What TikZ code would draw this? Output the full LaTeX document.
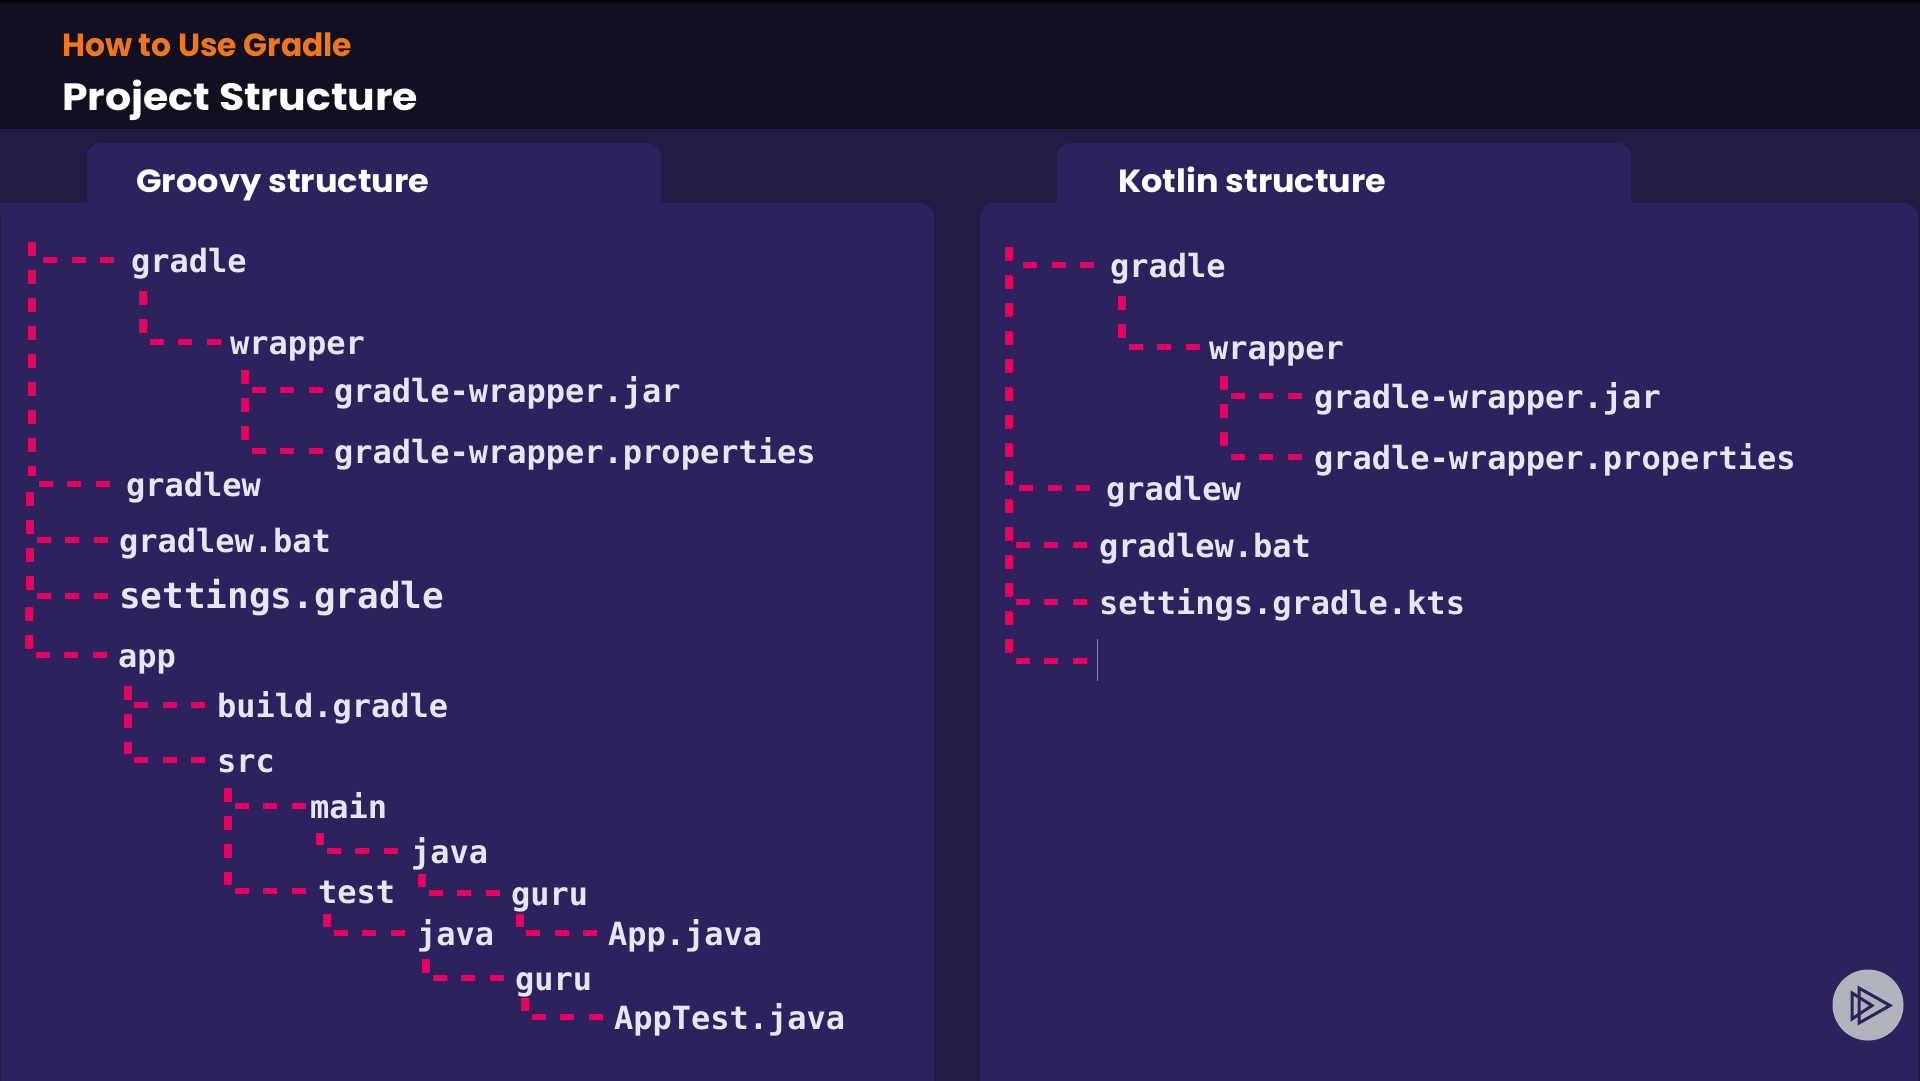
\documentclass[tikz,border=0pt]{standalone}
\usepackage{fontspec}
\setmainfont{Poppins}
\newfontfamily\codefont{DejaVu Sans Mono}
\definecolor{headerfill}{HTML}{120F20}
\definecolor{backfill}{HTML}{221C44}
\definecolor{panelfill}{HTML}{2D225E}
\definecolor{pinkline}{HTML}{E8005F}
\definecolor{codetext}{HTML}{E6E6F5}
\definecolor{orangetext}{HTML}{F0761C}
\definecolor{playfill}{HTML}{B0B3BB}
\tikzset{
  code/.style={anchor=base west,inner sep=0pt,outer sep=0pt,text height=24pt,text depth=0pt,
    text=codetext,font=\codefont\bfseries\fontsize{32}{32}\selectfont},
  bigcode/.style={code,font=\codefont\bfseries\fontsize{36}{36}\selectfont},
  vdash/.style={draw=pinkline,line width=8pt,dash pattern=on 14pt off 14pt},
  hdash/.style={draw=pinkline,line width=6.7pt,shorten <=6.5pt,
    dash pattern=on 14pt off 14.5pt on 14pt off 14.5pt on 14pt off 200pt},
  heading/.style={anchor=base west,inner sep=0pt,text=white,transform shape,font=\bfseries\fontsize{32}{32}\selectfont}
}
\begin{document}
\begin{tikzpicture}[x=1pt,y=-1pt]
      \useasboundingbox (0,0) rectangle (1920,1080);
      \fill[backfill] (-5,-5) rectangle (1925,1085);
      \begin{scope}
        \clip (-5,-5) rectangle (1925,1085);
        \fill[panelfill,rounded corners=14pt] (87,230) -- (87,143) -- (661,143) -- (661,230);
        \fill[panelfill,rounded corners=14pt] (1057,230) -- (1057,143) -- (1631,143) -- (1631,230);
        \fill[panelfill,rounded corners=14pt] (-20,203) -- (934,203) -- (934,1110) -- (1,1110) -- (1,203) -- cycle;
        \fill[panelfill,rounded corners=14pt] (980,1110) -- (980,203) -- (1918,203) -- (1918,1110) -- cycle;
      \end{scope}
      \fill[headerfill] (0,0) rectangle (1920,129);
      \fill[black] (0,0) rectangle (1920,2);

      \node[heading,xscale=0.98,text=orangetext] (course) at (62,56) {How to Use Gradle};
      \node[heading,xscale=1.08,font=\bfseries\fontsize{38}{38}\selectfont] (title) at (62,110) {Project Structure};
      \node[heading,xscale=1.05] (groovy) at (136,192) {Groovy structure};
      \node[heading,xscale=1.045] (kotlin) at (1118,192) {Kotlin structure};

      \node[code] (gradle) at (131,272) {gradle};
      \node[code] (wrapper) at (230,354) {wrapper};
      \node[code] (jar) at (334,402) {gradle-wrapper.jar};
      \node[code] (props) at (334,463) {gradle-wrapper.properties};
      \node[code] (gradlew) at (126,496) {gradlew};
      \node[code] (bat) at (119,552) {gradlew.bat};
      \node[bigcode] (settings) at (119,608) {settings.gradle};
      \node[code] (app) at (118,667) {app};
      \node[code] (build) at (217,717) {build.gradle};
      \node[code] (src) at (217,772) {src};
      \node[code] (main) at (310,818) {main};
      \node[code] (java) at (411,863) {java};
      \node[code] (guru) at (511,905) {guru};
      \node[code] (test) at (318,903) {test};
      \node[code] (javatest) at (417,945) {java};
      \node[code] (appjava) at (608,945) {App.java};
      \node[code] (gurutest) at (515,990) {guru};
      \node[code] (apptest) at (614,1029) {AppTest.java};

      \node[code] (kgradle) at (1110,277) {gradle};
      \node[code] (kwrapper) at (1209,359) {wrapper};
      \node[code] (kjar) at (1314,408) {gradle-wrapper.jar};
      \node[code] (kprops) at (1314,469) {gradle-wrapper.properties};
      \node[code] (kgradlew) at (1106,500) {gradlew};
      \node[code] (kbat) at (1099,557) {gradlew.bat};
      \node[code] (ksettings) at (1099,614) {settings.gradle.kts};

      \coordinate (roottop) at (32,242);
      \coordinate (rootend) at (32,476);
      \coordinate (rootnext) at (30,492);
      \coordinate (rootnextend) at (30,590);
      \coordinate (rootlast) at (29,607);
      \coordinate (rootlastend) at (29,649);
      \coordinate (gradletop) at (143,291);
      \coordinate (gradleend) at (143,333);
      \coordinate (wrappertop) at (245,370);
      \coordinate (wrapperend) at (245,442);
      \coordinate (apptop) at (127.5,686);
      \coordinate (append) at (127.5,754);
      \coordinate (srctop) at (228,788);
      \coordinate (srcend) at (228,885);
      \coordinate (maintop) at (320,833);
      \coordinate (mainend) at (320,845);
      \coordinate (javatop) at (422,874);
      \coordinate (javaend) at (422,887);
      \coordinate (testtop) at (327,914);
      \coordinate (testend) at (327,927);
      \coordinate (gurutop) at (519.5,914);
      \coordinate (guruend) at (519.5,927);
      \coordinate (javatesttop) at (426,959);
      \coordinate (javatestend) at (426,973);
      \coordinate (gurutesttop) at (525,998);
      \coordinate (gurutestend) at (525,1011);

      \draw[vdash] (roottop) -- (rootend);
      \draw[vdash] (rootnext) -- (rootnextend);
      \draw[vdash] (rootlast) -- (rootlastend);
      \draw[vdash] (gradletop) -- (gradleend);
      \draw[vdash] (wrappertop) -- (wrapperend);
      \draw[vdash] (apptop) -- (append);
      \draw[vdash] (srctop) -- (srcend);
      \draw[vdash] (maintop) -- (mainend);
      \draw[vdash] (javatop) -- (javaend);
      \draw[vdash] (testtop) -- (testend);
      \draw[vdash] (gurutop) -- (guruend);
      \draw[vdash] (javatesttop) -- (javatestend);
      \draw[vdash] (gurutesttop) -- (gurutestend);

      \draw[hdash,shorten <=11pt] (roottop |- gradle.west) -- (gradle.west);
      \draw[hdash] (rootend |- gradlew.west) -- (gradlew.west);
      \draw[hdash] (rootnext |- bat.west) -- (bat.west);
      \draw[hdash] (rootnext |- settings.west) -- (settings.west);
      \draw[hdash] (rootlast |- app.west) -- (app.west);
      \draw[hdash] (gradletop |- wrapper.west) -- (wrapper.west);
      \draw[hdash] (wrappertop |- jar.west) -- (jar.west);
      \draw[hdash] (wrappertop |- props.west) -- (props.west);
      \draw[hdash] (apptop |- build.west) -- (build.west);
      \draw[hdash] (apptop |- src.west) -- (src.west);
      \draw[hdash] (srctop |- main.west) -- (main.west);
      \draw[hdash] (srctop |- test.west) -- (test.west);
      \draw[hdash] (maintop |- java.west) -- (java.west);
      \draw[hdash] (javatop |- guru.west) -- (guru.west);
      \draw[hdash] (testtop |- javatest.west) -- (javatest.west);
      \draw[hdash] (gurutop |- appjava.west) -- (appjava.west);
      \draw[hdash] (javatesttop |- gurutest.west) -- (gurutest.west);
      \draw[hdash] (gurutesttop |- apptest.west) -- (apptest.west);

      \coordinate (kroottop) at (1009,247);
      \coordinate (krootend) at (1009,654);
      \coordinate (kgradletop) at (1122,296);
      \coordinate (kgradleend) at (1122,339);
      \coordinate (kwrappertop) at (1224,376);
      \coordinate (kwrapperend) at (1224,447);
      \coordinate (kcursortop) at (1097.5,639);
      \coordinate (kcursormid) at (1097.5,661);
      \coordinate (kcursorend) at (1097.5,681);

      \draw[vdash] (kroottop) -- (krootend);
      \draw[vdash] (kgradletop) -- (kgradleend);
      \draw[vdash] (kwrappertop) -- (kwrapperend);

      \draw[hdash,shorten <=14pt] (kroottop |- kgradle.west) -- (kgradle.west);
      \draw[hdash,shorten <=10pt] (kroottop |- kgradlew.west) -- (kgradlew.west);
      \draw[hdash] (kroottop |- kbat.west) -- (kbat.west);
      \draw[hdash] (kroottop |- ksettings.west) -- (ksettings.west);
      \draw[hdash] (kroottop |- kcursormid) -- (kcursormid);
      \draw[hdash] (kgradletop |- kwrapper.west) -- (kwrapper.west);
      \draw[hdash] (kwrappertop |- kjar.west) -- (kjar.west);
      \draw[hdash] (kwrappertop |- kprops.west) -- (kprops.west);
      \draw[line width=1pt,draw=playfill!70!panelfill] (kcursortop) -- (kcursorend);

      \node[circle,fill=playfill,minimum size=71pt,inner sep=0pt] (play) at (1868,1005) {};
      \draw[panelfill,line width=3pt,line join=miter] (1859,988) -- (1859,1023) -- (1890,1005.5) -- cycle;
      \draw[panelfill,line width=3pt,line join=miter] (1852,993) -- (1852,1019) -- (1872,1005.5) -- cycle;
\end{tikzpicture}
\end{document}
